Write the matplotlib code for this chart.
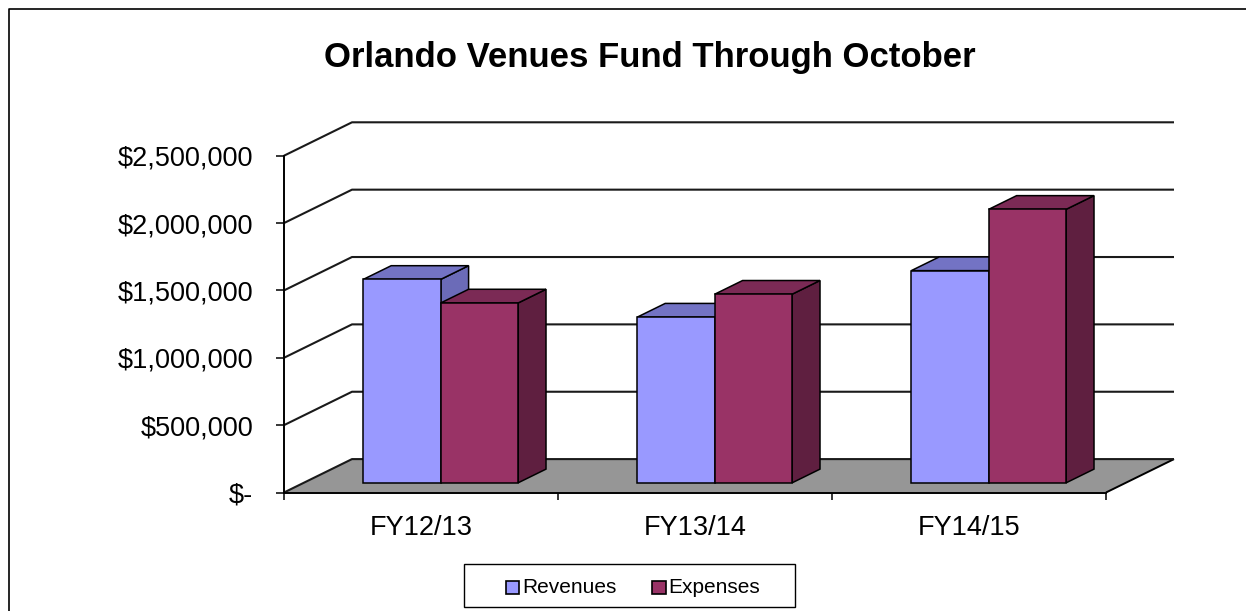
import matplotlib
matplotlib.use("Agg")
import matplotlib.pyplot as plt
from matplotlib.patches import Polygon, Rectangle
from matplotlib.lines import Line2D
from matplotlib.ticker import FixedLocator, FuncFormatter, NullFormatter

# ---- data ----
categories = ["FY12/13", "FY13/14", "FY14/15"]
series_names = ["Revenues", "Expenses"]
revenues = [1510000, 1230000, 1575000]
expenses = [1335000, 1400000, 2030000]
y_ticks = [0, 500000, 1000000, 1500000, 2000000, 2500000]
title = "Orlando Venues Fund Through October"

plt.rcParams['font.family'] = ['Liberation Sans', 'DejaVu Sans']

W, H = 1246, 611
fig = plt.figure(figsize=(W / 100, H / 100), dpi=100)
fig.patch.set_facecolor("white")


def fx(px):
    return px / W


def fy(py):
    return 1 - py / H


# front plane of the plot area
ax = fig.add_axes([fx(284), fy(492.5), fx(1106) - fx(284), fy(155.7) - fy(492.5)])
n = len(categories)
ymax = y_ticks[-1]
ax.set_xlim(0, n)
ax.set_ylim(0, ymax)
ax.set_facecolor("none")

# oblique depth vector (data units) for the full floor depth
DX = 68 / 274
DY = 33.4 / 336.8 * ymax

# floor
ax.add_patch(Polygon([(0, 0), (n, 0), (n + DX, DY), (DX, DY)], closed=True,
                     fc="#969696", ec="none", clip_on=False, zorder=1))
ax.plot([n, n + DX], [0, DY], color="black", lw=1.4, clip_on=False, zorder=2,
        solid_capstyle="butt")

# gridlines: side-wall diagonal + back-wall horizontal
for v in y_ticks:
    ax.plot([0, DX, n + DX], [v, v + DY, v + DY], color="#1a1a1a", lw=1.5,
            clip_on=False, zorder=2, solid_capstyle="butt")

# 3D bars
face_colors = {
    "Revenues": ("#9999FF", "#7373C4", "#6B6BB8"),
    "Expenses": ("#993366", "#7B2A55", "#5F1F40"),
}
bar_w = 0.2825
d0, d1 = 0.29, 0.70
ox, oy = d0 * DX, d0 * DY
ddx, ddy = (d1 - d0) * DX, (d1 - d0) * DY

z = 3
for i in range(n):
    for j, (name, vals) in enumerate(zip(series_names, [revenues, expenses])):
        front, top, side = face_colors[name]
        h = vals[i]
        x0 = i + 0.5 - bar_w + j * bar_w
        xa, xb = x0 + ox, x0 + bar_w + ox
        ya, yb = oy, oy + h
        ax.add_patch(Polygon([(xb, ya), (xb + ddx, ya + ddy), (xb + ddx, yb + ddy), (xb, yb)],
                             closed=True, fc=side, ec="black", lw=1.1,
                             clip_on=False, zorder=z, joinstyle="miter"))
        ax.add_patch(Polygon([(xa, yb), (xb, yb), (xb + ddx, yb + ddy), (xa + ddx, yb + ddy)],
                             closed=True, fc=top, ec="black", lw=1.1,
                             clip_on=False, zorder=z, joinstyle="miter"))
        ax.bar(xa, h, width=bar_w, bottom=ya, align="edge", color=front,
               edgecolor="black", linewidth=1.1, clip_on=False, zorder=z + 1)
        z += 2

# axes, ticks, labels
for s in ("top", "right"):
    ax.spines[s].set_visible(False)
for s in ("left", "bottom"):
    ax.spines[s].set_linewidth(1.4)
    ax.spines[s].set_color("black")
    ax.spines[s].set_zorder(50)

ax.yaxis.set_major_locator(FixedLocator(y_ticks))
ax.yaxis.set_major_formatter(FuncFormatter(lambda v, p: "$-" if v == 0 else f"${v:,.0f}"))
ax.tick_params(axis="y", direction="out", length=5.5, width=1.1, pad=16.5,
               labelsize=19.5, colors="black")

ax.xaxis.set_major_locator(FixedLocator(list(range(n + 1))))
ax.xaxis.set_major_formatter(NullFormatter())
ax.xaxis.set_minor_locator(FixedLocator([i + 0.5 for i in range(n)]))
ax.set_xticklabels(categories, minor=True)
ax.tick_params(axis="x", which="major", direction="out", length=5, width=1.1)
ax.tick_params(axis="x", which="minor", length=0, pad=16, labelsize=19.5)

# title
fig.text(fx(650), fy(66.7), title, ha="center", va="baseline",
         fontsize=25, fontweight="bold", color="black")

# legend
fig.patches.append(Rectangle((fx(464.3), fy(606.7)), fx(795) - fx(464.3), fy(564) - fy(606.7),
                             transform=fig.transFigure, fill=False, ec="black", lw=1.0))
legend_x = [505.7, 652.0]
for name, lx in zip(series_names, legend_x):
    fig.patches.append(Rectangle((fx(lx), fy(594.3)), fx(13.6), fy(581) - fy(594.3),
                                 transform=fig.transFigure, fc=face_colors[name][0],
                                 ec="black", lw=1.2))
    fig.text(fx(lx + 16.5), fy(593.3), name, ha="left", va="baseline", fontsize=15,
             color="black")

# chart border
fig.add_artist(Line2D([fx(9), fx(9), 1.0], [0.0, fy(9.3), fy(9.3)],
                      transform=fig.transFigure, color="black", lw=1.2))

fig.savefig("out.png", dpi=100)
